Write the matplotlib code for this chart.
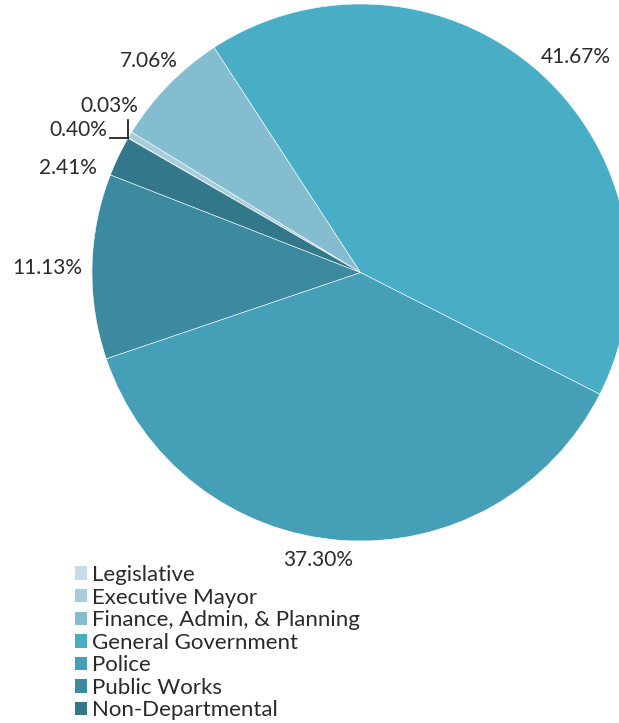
import numpy as np
import matplotlib.pyplot as plt
from matplotlib.patches import Patch

departments = ['Legislative', 'Executive Mayor', 'Finance, Admin, & Planning',
               'General Government', 'Police', 'Public Works', 'Non-Departmental']
shares = [0.03, 0.40, 7.06, 41.67, 37.30, 11.13, 2.41]
colors = ['#c5dde6', '#a7cddb', '#85bdd0', '#4aadc6', '#459fb7', '#3b8aa0', '#32788a']

# label nudges (axes units) so the text sits where the original put it
nudges = [(0.041, 0.055), (-0.082, -0.049), (0.021, 0.0), (0.047, -0.037),
          (-0.076, 0.056), (-0.038, -0.009), (-0.071, -0.101)]

plt.rcParams.update({'font.family': ['Lato', 'DejaVu Sans']})
TXT = '#2a2a2a'

W, H = 619, 723
fig = plt.figure(figsize=(W / 100, H / 100), dpi=100)
cx, cy, r = 360.5, 272.5, 268.5
ax = fig.add_axes([(cx - r) / W, (H - cy - r) / H, 2 * r / W, 2 * r / H])

start = 150
wedges, _ = ax.pie(shares, colors=colors, startangle=start, counterclock=False,
                   radius=1, wedgeprops=dict(edgecolor='white', linewidth=0.4))
for w in wedges:
    w.set_clip_on(False)
ax.set_xlim(-1, 1)
ax.set_ylim(-1, 1)
ax.set_aspect('equal')
ax.axis('off')

cum = start
for i, (val, w) in enumerate(zip(shares, wedges)):
    mid = np.deg2rad(cum - val * 3.6 / 2)
    cum -= val * 3.6
    x = 1.13 * np.cos(mid) + nudges[i][0]
    y = 1.13 * np.sin(mid) + nudges[i][1]
    ax.text(x, y, f'{val:.2f}%', ha='center', va='center', fontsize=15, color=TXT)

# leader lines for the two tiny slices
edge = np.deg2rad(start - 0.1)
ex, ey = np.cos(edge), np.sin(edge)
ax.plot([ex, ex], [ey, ey + 0.065], color='#222222', lw=1.3, clip_on=False)
ax.plot([ex - 0.067, ex], [ey, ey], color='#222222', lw=1.3, clip_on=False)

handles = [Patch(facecolor=c, edgecolor='none') for c in colors]
fig.legend(handles, departments, loc='upper left', bbox_to_anchor=(75 / W, 1 - 565 / H),
           frameon=False, fontsize=16, handlelength=0.55, handleheight=0.55,
           handletextpad=0.2, labelspacing=0.115, borderpad=0, borderaxespad=0,
           labelcolor=TXT)

fig.savefig('out.png', dpi=100)
